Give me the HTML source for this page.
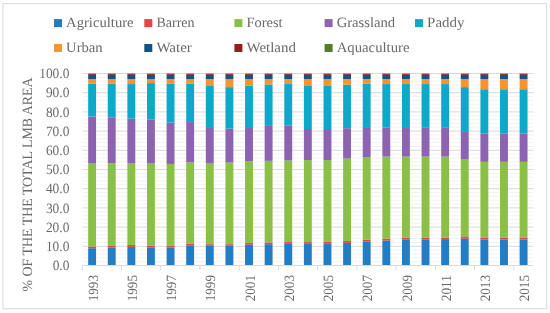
<!DOCTYPE html>
<html><head><meta charset="utf-8"><style>
html,body{margin:0;padding:0;background:#fff;width:550px;height:313px;overflow:hidden}
svg{display:block}
text{text-rendering:geometricPrecision}
text{font-family:'Liberation Serif', serif;fill:#6a6a6a}
</style></head><body>
<svg style="will-change:transform" width="550" height="313" viewBox="0 0 550 313">
<rect x="2.9" y="3.7" width="543.8" height="305.1" fill="#fff" stroke="#d9d9d9" stroke-width="1"/>
<line x1="82.30" x2="533.40" y1="261.66" y2="261.66" stroke="#f3f3f3" stroke-width="1"/>
<line x1="82.30" x2="533.40" y1="257.82" y2="257.82" stroke="#f3f3f3" stroke-width="1"/>
<line x1="82.30" x2="533.40" y1="253.98" y2="253.98" stroke="#f3f3f3" stroke-width="1"/>
<line x1="82.30" x2="533.40" y1="250.14" y2="250.14" stroke="#f3f3f3" stroke-width="1"/>
<line x1="82.30" x2="533.40" y1="246.30" y2="246.30" stroke="#d9d9d9" stroke-width="1"/>
<line x1="82.30" x2="533.40" y1="242.46" y2="242.46" stroke="#f3f3f3" stroke-width="1"/>
<line x1="82.30" x2="533.40" y1="238.62" y2="238.62" stroke="#f3f3f3" stroke-width="1"/>
<line x1="82.30" x2="533.40" y1="234.78" y2="234.78" stroke="#f3f3f3" stroke-width="1"/>
<line x1="82.30" x2="533.40" y1="230.94" y2="230.94" stroke="#f3f3f3" stroke-width="1"/>
<line x1="82.30" x2="533.40" y1="227.10" y2="227.10" stroke="#d9d9d9" stroke-width="1"/>
<line x1="82.30" x2="533.40" y1="223.26" y2="223.26" stroke="#f3f3f3" stroke-width="1"/>
<line x1="82.30" x2="533.40" y1="219.42" y2="219.42" stroke="#f3f3f3" stroke-width="1"/>
<line x1="82.30" x2="533.40" y1="215.58" y2="215.58" stroke="#f3f3f3" stroke-width="1"/>
<line x1="82.30" x2="533.40" y1="211.74" y2="211.74" stroke="#f3f3f3" stroke-width="1"/>
<line x1="82.30" x2="533.40" y1="207.90" y2="207.90" stroke="#d9d9d9" stroke-width="1"/>
<line x1="82.30" x2="533.40" y1="204.06" y2="204.06" stroke="#f3f3f3" stroke-width="1"/>
<line x1="82.30" x2="533.40" y1="200.22" y2="200.22" stroke="#f3f3f3" stroke-width="1"/>
<line x1="82.30" x2="533.40" y1="196.38" y2="196.38" stroke="#f3f3f3" stroke-width="1"/>
<line x1="82.30" x2="533.40" y1="192.54" y2="192.54" stroke="#f3f3f3" stroke-width="1"/>
<line x1="82.30" x2="533.40" y1="188.70" y2="188.70" stroke="#d9d9d9" stroke-width="1"/>
<line x1="82.30" x2="533.40" y1="184.86" y2="184.86" stroke="#f3f3f3" stroke-width="1"/>
<line x1="82.30" x2="533.40" y1="181.02" y2="181.02" stroke="#f3f3f3" stroke-width="1"/>
<line x1="82.30" x2="533.40" y1="177.18" y2="177.18" stroke="#f3f3f3" stroke-width="1"/>
<line x1="82.30" x2="533.40" y1="173.34" y2="173.34" stroke="#f3f3f3" stroke-width="1"/>
<line x1="82.30" x2="533.40" y1="169.50" y2="169.50" stroke="#d9d9d9" stroke-width="1"/>
<line x1="82.30" x2="533.40" y1="165.66" y2="165.66" stroke="#f3f3f3" stroke-width="1"/>
<line x1="82.30" x2="533.40" y1="161.82" y2="161.82" stroke="#f3f3f3" stroke-width="1"/>
<line x1="82.30" x2="533.40" y1="157.98" y2="157.98" stroke="#f3f3f3" stroke-width="1"/>
<line x1="82.30" x2="533.40" y1="154.14" y2="154.14" stroke="#f3f3f3" stroke-width="1"/>
<line x1="82.30" x2="533.40" y1="150.30" y2="150.30" stroke="#d9d9d9" stroke-width="1"/>
<line x1="82.30" x2="533.40" y1="146.46" y2="146.46" stroke="#f3f3f3" stroke-width="1"/>
<line x1="82.30" x2="533.40" y1="142.62" y2="142.62" stroke="#f3f3f3" stroke-width="1"/>
<line x1="82.30" x2="533.40" y1="138.78" y2="138.78" stroke="#f3f3f3" stroke-width="1"/>
<line x1="82.30" x2="533.40" y1="134.94" y2="134.94" stroke="#f3f3f3" stroke-width="1"/>
<line x1="82.30" x2="533.40" y1="131.10" y2="131.10" stroke="#d9d9d9" stroke-width="1"/>
<line x1="82.30" x2="533.40" y1="127.26" y2="127.26" stroke="#f3f3f3" stroke-width="1"/>
<line x1="82.30" x2="533.40" y1="123.42" y2="123.42" stroke="#f3f3f3" stroke-width="1"/>
<line x1="82.30" x2="533.40" y1="119.58" y2="119.58" stroke="#f3f3f3" stroke-width="1"/>
<line x1="82.30" x2="533.40" y1="115.74" y2="115.74" stroke="#f3f3f3" stroke-width="1"/>
<line x1="82.30" x2="533.40" y1="111.90" y2="111.90" stroke="#d9d9d9" stroke-width="1"/>
<line x1="82.30" x2="533.40" y1="108.06" y2="108.06" stroke="#f3f3f3" stroke-width="1"/>
<line x1="82.30" x2="533.40" y1="104.22" y2="104.22" stroke="#f3f3f3" stroke-width="1"/>
<line x1="82.30" x2="533.40" y1="100.38" y2="100.38" stroke="#f3f3f3" stroke-width="1"/>
<line x1="82.30" x2="533.40" y1="96.54" y2="96.54" stroke="#f3f3f3" stroke-width="1"/>
<line x1="82.30" x2="533.40" y1="92.70" y2="92.70" stroke="#d9d9d9" stroke-width="1"/>
<line x1="82.30" x2="533.40" y1="88.86" y2="88.86" stroke="#f3f3f3" stroke-width="1"/>
<line x1="82.30" x2="533.40" y1="85.02" y2="85.02" stroke="#f3f3f3" stroke-width="1"/>
<line x1="82.30" x2="533.40" y1="81.18" y2="81.18" stroke="#f3f3f3" stroke-width="1"/>
<line x1="82.30" x2="533.40" y1="77.34" y2="77.34" stroke="#f3f3f3" stroke-width="1"/>
<line x1="82.30" x2="533.40" y1="73.50" y2="73.50" stroke="#d9d9d9" stroke-width="1"/>
<rect x="88.16" y="248.22" width="7.9" height="17.28" fill="#237DC4"/>
<rect x="88.16" y="246.49" width="7.9" height="1.73" fill="#E34444"/>
<rect x="88.16" y="163.55" width="7.9" height="82.94" fill="#8AC046"/>
<rect x="88.16" y="116.51" width="7.9" height="47.04" fill="#8C63B0"/>
<rect x="88.16" y="83.48" width="7.9" height="33.02" fill="#0CA9CA"/>
<rect x="88.16" y="79.07" width="7.9" height="4.42" fill="#F8942F"/>
<rect x="88.16" y="74.84" width="7.9" height="4.22" fill="#105388"/>
<rect x="88.16" y="73.77" width="7.9" height="1.08" fill="#901f1f"/>
<rect x="88.16" y="73.50" width="7.9" height="0.27" fill="#537D25"/>
<rect x="107.77" y="247.64" width="7.9" height="17.86" fill="#237DC4"/>
<rect x="107.77" y="245.92" width="7.9" height="1.73" fill="#E34444"/>
<rect x="107.77" y="163.16" width="7.9" height="82.75" fill="#8AC046"/>
<rect x="107.77" y="117.28" width="7.9" height="45.89" fill="#8C63B0"/>
<rect x="107.77" y="83.48" width="7.9" height="33.79" fill="#0CA9CA"/>
<rect x="107.77" y="79.07" width="7.9" height="4.42" fill="#F8942F"/>
<rect x="107.77" y="74.84" width="7.9" height="4.22" fill="#105388"/>
<rect x="107.77" y="73.77" width="7.9" height="1.08" fill="#901f1f"/>
<rect x="107.77" y="73.50" width="7.9" height="0.27" fill="#537D25"/>
<rect x="127.38" y="246.88" width="7.9" height="18.62" fill="#237DC4"/>
<rect x="127.38" y="244.96" width="7.9" height="1.92" fill="#E34444"/>
<rect x="127.38" y="163.55" width="7.9" height="81.41" fill="#8AC046"/>
<rect x="127.38" y="118.62" width="7.9" height="44.93" fill="#8C63B0"/>
<rect x="127.38" y="84.06" width="7.9" height="34.56" fill="#0CA9CA"/>
<rect x="127.38" y="79.07" width="7.9" height="4.99" fill="#F8942F"/>
<rect x="127.38" y="74.84" width="7.9" height="4.22" fill="#105388"/>
<rect x="127.38" y="73.77" width="7.9" height="1.08" fill="#901f1f"/>
<rect x="127.38" y="73.50" width="7.9" height="0.27" fill="#537D25"/>
<rect x="147.00" y="247.26" width="7.9" height="18.24" fill="#237DC4"/>
<rect x="147.00" y="245.53" width="7.9" height="1.73" fill="#E34444"/>
<rect x="147.00" y="163.55" width="7.9" height="81.98" fill="#8AC046"/>
<rect x="147.00" y="119.58" width="7.9" height="43.97" fill="#8C63B0"/>
<rect x="147.00" y="83.10" width="7.9" height="36.48" fill="#0CA9CA"/>
<rect x="147.00" y="79.07" width="7.9" height="4.03" fill="#F8942F"/>
<rect x="147.00" y="74.84" width="7.9" height="4.22" fill="#105388"/>
<rect x="147.00" y="73.77" width="7.9" height="1.08" fill="#901f1f"/>
<rect x="147.00" y="73.50" width="7.9" height="0.27" fill="#537D25"/>
<rect x="166.61" y="247.45" width="7.9" height="18.05" fill="#237DC4"/>
<rect x="166.61" y="245.53" width="7.9" height="1.92" fill="#E34444"/>
<rect x="166.61" y="163.93" width="7.9" height="81.60" fill="#8AC046"/>
<rect x="166.61" y="122.65" width="7.9" height="41.28" fill="#8C63B0"/>
<rect x="166.61" y="83.87" width="7.9" height="38.78" fill="#0CA9CA"/>
<rect x="166.61" y="79.07" width="7.9" height="4.80" fill="#F8942F"/>
<rect x="166.61" y="74.84" width="7.9" height="4.22" fill="#105388"/>
<rect x="166.61" y="73.77" width="7.9" height="1.08" fill="#901f1f"/>
<rect x="166.61" y="73.50" width="7.9" height="0.27" fill="#537D25"/>
<rect x="186.22" y="245.34" width="7.9" height="20.16" fill="#237DC4"/>
<rect x="186.22" y="243.42" width="7.9" height="1.92" fill="#E34444"/>
<rect x="186.22" y="162.40" width="7.9" height="81.02" fill="#8AC046"/>
<rect x="186.22" y="122.08" width="7.9" height="40.32" fill="#8C63B0"/>
<rect x="186.22" y="83.87" width="7.9" height="38.21" fill="#0CA9CA"/>
<rect x="186.22" y="79.07" width="7.9" height="4.80" fill="#F8942F"/>
<rect x="186.22" y="74.84" width="7.9" height="4.22" fill="#105388"/>
<rect x="186.22" y="73.77" width="7.9" height="1.08" fill="#901f1f"/>
<rect x="186.22" y="73.50" width="7.9" height="0.27" fill="#537D25"/>
<rect x="205.83" y="245.72" width="7.9" height="19.78" fill="#237DC4"/>
<rect x="205.83" y="244.19" width="7.9" height="1.54" fill="#E34444"/>
<rect x="205.83" y="162.97" width="7.9" height="81.22" fill="#8AC046"/>
<rect x="205.83" y="127.07" width="7.9" height="35.90" fill="#8C63B0"/>
<rect x="205.83" y="85.98" width="7.9" height="41.09" fill="#0CA9CA"/>
<rect x="205.83" y="79.07" width="7.9" height="6.91" fill="#F8942F"/>
<rect x="205.83" y="74.84" width="7.9" height="4.22" fill="#105388"/>
<rect x="205.83" y="73.77" width="7.9" height="1.08" fill="#901f1f"/>
<rect x="205.83" y="73.50" width="7.9" height="0.27" fill="#537D25"/>
<rect x="225.45" y="245.72" width="7.9" height="19.78" fill="#237DC4"/>
<rect x="225.45" y="244.19" width="7.9" height="1.54" fill="#E34444"/>
<rect x="225.45" y="162.59" width="7.9" height="81.60" fill="#8AC046"/>
<rect x="225.45" y="128.60" width="7.9" height="33.98" fill="#8C63B0"/>
<rect x="225.45" y="87.13" width="7.9" height="41.47" fill="#0CA9CA"/>
<rect x="225.45" y="79.07" width="7.9" height="8.06" fill="#F8942F"/>
<rect x="225.45" y="74.84" width="7.9" height="4.22" fill="#105388"/>
<rect x="225.45" y="73.77" width="7.9" height="1.08" fill="#901f1f"/>
<rect x="225.45" y="73.50" width="7.9" height="0.27" fill="#537D25"/>
<rect x="245.06" y="244.57" width="7.9" height="20.93" fill="#237DC4"/>
<rect x="245.06" y="242.84" width="7.9" height="1.73" fill="#E34444"/>
<rect x="245.06" y="161.05" width="7.9" height="81.79" fill="#8AC046"/>
<rect x="245.06" y="128.03" width="7.9" height="33.02" fill="#8C63B0"/>
<rect x="245.06" y="85.79" width="7.9" height="42.24" fill="#0CA9CA"/>
<rect x="245.06" y="79.07" width="7.9" height="6.72" fill="#F8942F"/>
<rect x="245.06" y="74.84" width="7.9" height="4.22" fill="#105388"/>
<rect x="245.06" y="73.77" width="7.9" height="1.08" fill="#901f1f"/>
<rect x="245.06" y="73.50" width="7.9" height="0.27" fill="#537D25"/>
<rect x="264.67" y="244.19" width="7.9" height="21.31" fill="#237DC4"/>
<rect x="264.67" y="242.46" width="7.9" height="1.73" fill="#E34444"/>
<rect x="264.67" y="160.86" width="7.9" height="81.60" fill="#8AC046"/>
<rect x="264.67" y="125.92" width="7.9" height="34.94" fill="#8C63B0"/>
<rect x="264.67" y="84.44" width="7.9" height="41.47" fill="#0CA9CA"/>
<rect x="264.67" y="79.07" width="7.9" height="5.38" fill="#F8942F"/>
<rect x="264.67" y="74.84" width="7.9" height="4.22" fill="#105388"/>
<rect x="264.67" y="73.77" width="7.9" height="1.08" fill="#901f1f"/>
<rect x="264.67" y="73.50" width="7.9" height="0.27" fill="#537D25"/>
<rect x="284.29" y="243.80" width="7.9" height="21.70" fill="#237DC4"/>
<rect x="284.29" y="242.08" width="7.9" height="1.73" fill="#E34444"/>
<rect x="284.29" y="160.48" width="7.9" height="81.60" fill="#8AC046"/>
<rect x="284.29" y="125.34" width="7.9" height="35.14" fill="#8C63B0"/>
<rect x="284.29" y="84.06" width="7.9" height="41.28" fill="#0CA9CA"/>
<rect x="284.29" y="79.07" width="7.9" height="4.99" fill="#F8942F"/>
<rect x="284.29" y="74.84" width="7.9" height="4.22" fill="#105388"/>
<rect x="284.29" y="73.77" width="7.9" height="1.08" fill="#901f1f"/>
<rect x="284.29" y="73.50" width="7.9" height="0.27" fill="#537D25"/>
<rect x="303.90" y="243.80" width="7.9" height="21.70" fill="#237DC4"/>
<rect x="303.90" y="242.08" width="7.9" height="1.73" fill="#E34444"/>
<rect x="303.90" y="160.09" width="7.9" height="81.98" fill="#8AC046"/>
<rect x="303.90" y="128.99" width="7.9" height="31.10" fill="#8C63B0"/>
<rect x="303.90" y="85.98" width="7.9" height="43.01" fill="#0CA9CA"/>
<rect x="303.90" y="79.07" width="7.9" height="6.91" fill="#F8942F"/>
<rect x="303.90" y="74.84" width="7.9" height="4.22" fill="#105388"/>
<rect x="303.90" y="73.77" width="7.9" height="1.08" fill="#901f1f"/>
<rect x="303.90" y="73.50" width="7.9" height="0.27" fill="#537D25"/>
<rect x="323.51" y="243.80" width="7.9" height="21.70" fill="#237DC4"/>
<rect x="323.51" y="241.88" width="7.9" height="1.92" fill="#E34444"/>
<rect x="323.51" y="160.09" width="7.9" height="81.79" fill="#8AC046"/>
<rect x="323.51" y="128.99" width="7.9" height="31.10" fill="#8C63B0"/>
<rect x="323.51" y="85.98" width="7.9" height="43.01" fill="#0CA9CA"/>
<rect x="323.51" y="79.07" width="7.9" height="6.91" fill="#F8942F"/>
<rect x="323.51" y="74.84" width="7.9" height="4.22" fill="#105388"/>
<rect x="323.51" y="73.77" width="7.9" height="1.08" fill="#901f1f"/>
<rect x="323.51" y="73.50" width="7.9" height="0.27" fill="#537D25"/>
<rect x="343.13" y="242.84" width="7.9" height="22.66" fill="#237DC4"/>
<rect x="343.13" y="240.92" width="7.9" height="1.92" fill="#E34444"/>
<rect x="343.13" y="158.56" width="7.9" height="82.37" fill="#8AC046"/>
<rect x="343.13" y="128.22" width="7.9" height="30.34" fill="#8C63B0"/>
<rect x="343.13" y="84.64" width="7.9" height="43.58" fill="#0CA9CA"/>
<rect x="343.13" y="79.07" width="7.9" height="5.57" fill="#F8942F"/>
<rect x="343.13" y="74.84" width="7.9" height="4.22" fill="#105388"/>
<rect x="343.13" y="73.77" width="7.9" height="1.08" fill="#901f1f"/>
<rect x="343.13" y="73.50" width="7.9" height="0.27" fill="#537D25"/>
<rect x="362.74" y="241.69" width="7.9" height="23.81" fill="#237DC4"/>
<rect x="362.74" y="239.77" width="7.9" height="1.92" fill="#E34444"/>
<rect x="362.74" y="157.02" width="7.9" height="82.75" fill="#8AC046"/>
<rect x="362.74" y="127.07" width="7.9" height="29.95" fill="#8C63B0"/>
<rect x="362.74" y="83.48" width="7.9" height="43.58" fill="#0CA9CA"/>
<rect x="362.74" y="79.07" width="7.9" height="4.42" fill="#F8942F"/>
<rect x="362.74" y="74.84" width="7.9" height="4.22" fill="#105388"/>
<rect x="362.74" y="73.77" width="7.9" height="1.08" fill="#901f1f"/>
<rect x="362.74" y="73.50" width="7.9" height="0.27" fill="#537D25"/>
<rect x="382.35" y="240.54" width="7.9" height="24.96" fill="#237DC4"/>
<rect x="382.35" y="238.62" width="7.9" height="1.92" fill="#E34444"/>
<rect x="382.35" y="156.64" width="7.9" height="81.98" fill="#8AC046"/>
<rect x="382.35" y="127.64" width="7.9" height="28.99" fill="#8C63B0"/>
<rect x="382.35" y="84.06" width="7.9" height="43.58" fill="#0CA9CA"/>
<rect x="382.35" y="79.07" width="7.9" height="4.99" fill="#F8942F"/>
<rect x="382.35" y="74.84" width="7.9" height="4.22" fill="#105388"/>
<rect x="382.35" y="73.77" width="7.9" height="1.08" fill="#901f1f"/>
<rect x="382.35" y="73.50" width="7.9" height="0.27" fill="#537D25"/>
<rect x="401.97" y="239.77" width="7.9" height="25.73" fill="#237DC4"/>
<rect x="401.97" y="237.85" width="7.9" height="1.92" fill="#E34444"/>
<rect x="401.97" y="156.64" width="7.9" height="81.22" fill="#8AC046"/>
<rect x="401.97" y="128.03" width="7.9" height="28.61" fill="#8C63B0"/>
<rect x="401.97" y="84.06" width="7.9" height="43.97" fill="#0CA9CA"/>
<rect x="401.97" y="79.07" width="7.9" height="4.99" fill="#F8942F"/>
<rect x="401.97" y="74.84" width="7.9" height="4.22" fill="#105388"/>
<rect x="401.97" y="73.77" width="7.9" height="1.08" fill="#901f1f"/>
<rect x="401.97" y="73.50" width="7.9" height="0.27" fill="#537D25"/>
<rect x="421.58" y="239.77" width="7.9" height="25.73" fill="#237DC4"/>
<rect x="421.58" y="237.85" width="7.9" height="1.92" fill="#E34444"/>
<rect x="421.58" y="156.64" width="7.9" height="81.22" fill="#8AC046"/>
<rect x="421.58" y="127.84" width="7.9" height="28.80" fill="#8C63B0"/>
<rect x="421.58" y="84.06" width="7.9" height="43.78" fill="#0CA9CA"/>
<rect x="421.58" y="79.07" width="7.9" height="4.99" fill="#F8942F"/>
<rect x="421.58" y="74.84" width="7.9" height="4.22" fill="#105388"/>
<rect x="421.58" y="73.77" width="7.9" height="1.08" fill="#901f1f"/>
<rect x="421.58" y="73.50" width="7.9" height="0.27" fill="#537D25"/>
<rect x="441.19" y="239.10" width="7.9" height="26.40" fill="#237DC4"/>
<rect x="441.19" y="237.47" width="7.9" height="1.63" fill="#E34444"/>
<rect x="441.19" y="156.64" width="7.9" height="80.83" fill="#8AC046"/>
<rect x="441.19" y="127.84" width="7.9" height="28.80" fill="#8C63B0"/>
<rect x="441.19" y="84.06" width="7.9" height="43.78" fill="#0CA9CA"/>
<rect x="441.19" y="79.07" width="7.9" height="4.99" fill="#F8942F"/>
<rect x="441.19" y="74.84" width="7.9" height="4.22" fill="#105388"/>
<rect x="441.19" y="73.77" width="7.9" height="1.08" fill="#901f1f"/>
<rect x="441.19" y="73.50" width="7.9" height="0.27" fill="#537D25"/>
<rect x="460.80" y="238.81" width="7.9" height="26.69" fill="#237DC4"/>
<rect x="460.80" y="237.08" width="7.9" height="1.73" fill="#E34444"/>
<rect x="460.80" y="159.52" width="7.9" height="77.57" fill="#8AC046"/>
<rect x="460.80" y="131.10" width="7.9" height="28.42" fill="#8C63B0"/>
<rect x="460.80" y="87.13" width="7.9" height="43.97" fill="#0CA9CA"/>
<rect x="460.80" y="79.07" width="7.9" height="8.06" fill="#F8942F"/>
<rect x="460.80" y="74.84" width="7.9" height="4.22" fill="#105388"/>
<rect x="460.80" y="73.77" width="7.9" height="1.08" fill="#901f1f"/>
<rect x="460.80" y="73.50" width="7.9" height="0.27" fill="#537D25"/>
<rect x="480.42" y="239.39" width="7.9" height="26.11" fill="#237DC4"/>
<rect x="480.42" y="237.47" width="7.9" height="1.92" fill="#E34444"/>
<rect x="480.42" y="161.82" width="7.9" height="75.65" fill="#8AC046"/>
<rect x="480.42" y="133.40" width="7.9" height="28.42" fill="#8C63B0"/>
<rect x="480.42" y="89.24" width="7.9" height="44.16" fill="#0CA9CA"/>
<rect x="480.42" y="79.07" width="7.9" height="10.18" fill="#F8942F"/>
<rect x="480.42" y="74.84" width="7.9" height="4.22" fill="#105388"/>
<rect x="480.42" y="73.77" width="7.9" height="1.08" fill="#901f1f"/>
<rect x="480.42" y="73.50" width="7.9" height="0.27" fill="#537D25"/>
<rect x="500.03" y="239.39" width="7.9" height="26.11" fill="#237DC4"/>
<rect x="500.03" y="237.47" width="7.9" height="1.92" fill="#E34444"/>
<rect x="500.03" y="161.82" width="7.9" height="75.65" fill="#8AC046"/>
<rect x="500.03" y="133.40" width="7.9" height="28.42" fill="#8C63B0"/>
<rect x="500.03" y="89.24" width="7.9" height="44.16" fill="#0CA9CA"/>
<rect x="500.03" y="79.07" width="7.9" height="10.18" fill="#F8942F"/>
<rect x="500.03" y="74.84" width="7.9" height="4.22" fill="#105388"/>
<rect x="500.03" y="73.77" width="7.9" height="1.08" fill="#901f1f"/>
<rect x="500.03" y="73.50" width="7.9" height="0.27" fill="#537D25"/>
<rect x="519.64" y="239.39" width="7.9" height="26.11" fill="#237DC4"/>
<rect x="519.64" y="237.47" width="7.9" height="1.92" fill="#E34444"/>
<rect x="519.64" y="161.82" width="7.9" height="75.65" fill="#8AC046"/>
<rect x="519.64" y="133.40" width="7.9" height="28.42" fill="#8C63B0"/>
<rect x="519.64" y="89.24" width="7.9" height="44.16" fill="#0CA9CA"/>
<rect x="519.64" y="79.07" width="7.9" height="10.18" fill="#F8942F"/>
<rect x="519.64" y="74.84" width="7.9" height="4.22" fill="#105388"/>
<rect x="519.64" y="73.77" width="7.9" height="1.08" fill="#901f1f"/>
<rect x="519.64" y="73.50" width="7.9" height="0.27" fill="#537D25"/>
<line x1="82.30" x2="533.40" y1="265.50" y2="265.50" stroke="#d9d9d9" stroke-width="1"/>
<line x1="82.30" x2="82.30" y1="265.50" y2="270.00" stroke="#d9d9d9" stroke-width="1"/>
<line x1="121.53" x2="121.53" y1="265.50" y2="270.00" stroke="#d9d9d9" stroke-width="1"/>
<line x1="160.75" x2="160.75" y1="265.50" y2="270.00" stroke="#d9d9d9" stroke-width="1"/>
<line x1="199.98" x2="199.98" y1="265.50" y2="270.00" stroke="#d9d9d9" stroke-width="1"/>
<line x1="239.20" x2="239.20" y1="265.50" y2="270.00" stroke="#d9d9d9" stroke-width="1"/>
<line x1="278.43" x2="278.43" y1="265.50" y2="270.00" stroke="#d9d9d9" stroke-width="1"/>
<line x1="317.66" x2="317.66" y1="265.50" y2="270.00" stroke="#d9d9d9" stroke-width="1"/>
<line x1="356.88" x2="356.88" y1="265.50" y2="270.00" stroke="#d9d9d9" stroke-width="1"/>
<line x1="396.11" x2="396.11" y1="265.50" y2="270.00" stroke="#d9d9d9" stroke-width="1"/>
<line x1="435.33" x2="435.33" y1="265.50" y2="270.00" stroke="#d9d9d9" stroke-width="1"/>
<line x1="474.56" x2="474.56" y1="265.50" y2="270.00" stroke="#d9d9d9" stroke-width="1"/>
<line x1="513.79" x2="513.79" y1="265.50" y2="270.00" stroke="#d9d9d9" stroke-width="1"/>
<text x="69.4" y="270.10" text-anchor="end" font-size="14.2" textLength="16.77" lengthAdjust="spacingAndGlyphs">0.0</text>
<text x="69.4" y="250.90" text-anchor="end" font-size="14.2" textLength="23.48" lengthAdjust="spacingAndGlyphs">10.0</text>
<text x="69.4" y="231.70" text-anchor="end" font-size="14.2" textLength="23.48" lengthAdjust="spacingAndGlyphs">20.0</text>
<text x="69.4" y="212.50" text-anchor="end" font-size="14.2" textLength="23.48" lengthAdjust="spacingAndGlyphs">30.0</text>
<text x="69.4" y="193.30" text-anchor="end" font-size="14.2" textLength="23.48" lengthAdjust="spacingAndGlyphs">40.0</text>
<text x="69.4" y="174.10" text-anchor="end" font-size="14.2" textLength="23.48" lengthAdjust="spacingAndGlyphs">50.0</text>
<text x="69.4" y="154.90" text-anchor="end" font-size="14.2" textLength="23.48" lengthAdjust="spacingAndGlyphs">60.0</text>
<text x="69.4" y="135.70" text-anchor="end" font-size="14.2" textLength="23.48" lengthAdjust="spacingAndGlyphs">70.0</text>
<text x="69.4" y="116.50" text-anchor="end" font-size="14.2" textLength="23.48" lengthAdjust="spacingAndGlyphs">80.0</text>
<text x="69.4" y="97.30" text-anchor="end" font-size="14.2" textLength="23.48" lengthAdjust="spacingAndGlyphs">90.0</text>
<text x="69.4" y="78.10" text-anchor="end" font-size="14.2" textLength="30.19" lengthAdjust="spacingAndGlyphs">100.0</text>
<text transform="translate(97.71,275) rotate(-90)" text-anchor="end" font-size="14.2" textLength="26.3" lengthAdjust="spacingAndGlyphs">1993</text>
<text transform="translate(136.93,275) rotate(-90)" text-anchor="end" font-size="14.2" textLength="26.3" lengthAdjust="spacingAndGlyphs">1995</text>
<text transform="translate(176.16,275) rotate(-90)" text-anchor="end" font-size="14.2" textLength="26.3" lengthAdjust="spacingAndGlyphs">1997</text>
<text transform="translate(215.38,275) rotate(-90)" text-anchor="end" font-size="14.2" textLength="26.3" lengthAdjust="spacingAndGlyphs">1999</text>
<text transform="translate(254.61,275) rotate(-90)" text-anchor="end" font-size="14.2" textLength="26.3" lengthAdjust="spacingAndGlyphs">2001</text>
<text transform="translate(293.84,275) rotate(-90)" text-anchor="end" font-size="14.2" textLength="26.3" lengthAdjust="spacingAndGlyphs">2003</text>
<text transform="translate(333.06,275) rotate(-90)" text-anchor="end" font-size="14.2" textLength="26.3" lengthAdjust="spacingAndGlyphs">2005</text>
<text transform="translate(372.29,275) rotate(-90)" text-anchor="end" font-size="14.2" textLength="26.3" lengthAdjust="spacingAndGlyphs">2007</text>
<text transform="translate(411.52,275) rotate(-90)" text-anchor="end" font-size="14.2" textLength="26.3" lengthAdjust="spacingAndGlyphs">2009</text>
<text transform="translate(450.74,275) rotate(-90)" text-anchor="end" font-size="14.2" textLength="26.3" lengthAdjust="spacingAndGlyphs">2011</text>
<text transform="translate(489.97,275) rotate(-90)" text-anchor="end" font-size="14.2" textLength="26.3" lengthAdjust="spacingAndGlyphs">2013</text>
<text transform="translate(529.19,275) rotate(-90)" text-anchor="end" font-size="14.2" textLength="26.3" lengthAdjust="spacingAndGlyphs">2015</text>
<text transform="translate(31.8,291.5) rotate(-90)" font-size="14.2" textLength="214" lengthAdjust="spacingAndGlyphs">% OF THE THE TOTAL LMB AREA</text>
<rect x="54" y="19.1" width="8" height="8" fill="#237DC4"/>
<text x="66.10" y="27.10" font-size="14.2" textLength="67.5" lengthAdjust="spacingAndGlyphs">Agriculture</text>
<rect x="144.3" y="19.1" width="8" height="8" fill="#E34444"/>
<text x="156.40" y="27.10" font-size="14.2" textLength="38.2" lengthAdjust="spacingAndGlyphs">Barren</text>
<rect x="234.4" y="19.1" width="8" height="8" fill="#8AC046"/>
<text x="246.50" y="27.10" font-size="14.2" textLength="36.0" lengthAdjust="spacingAndGlyphs">Forest</text>
<rect x="324.6" y="19.1" width="8" height="8" fill="#8C63B0"/>
<text x="336.70" y="27.10" font-size="14.2" textLength="58.5" lengthAdjust="spacingAndGlyphs">Grassland</text>
<rect x="415.0" y="19.1" width="8" height="8" fill="#0CA9CA"/>
<text x="427.10" y="27.10" font-size="14.2" textLength="37.3" lengthAdjust="spacingAndGlyphs">Paddy</text>
<rect x="54" y="44" width="8" height="8" fill="#F8942F"/>
<text x="66.10" y="52.00" font-size="14.2" textLength="36.5" lengthAdjust="spacingAndGlyphs">Urban</text>
<rect x="144.3" y="44" width="8" height="8" fill="#105388"/>
<text x="156.40" y="52.00" font-size="14.2" textLength="35.4" lengthAdjust="spacingAndGlyphs">Water</text>
<rect x="234.4" y="44" width="8" height="8" fill="#901f1f"/>
<text x="246.50" y="52.00" font-size="14.2" textLength="49.4" lengthAdjust="spacingAndGlyphs">Wetland</text>
<rect x="324.6" y="44" width="8" height="8" fill="#537D25"/>
<text x="336.70" y="52.00" font-size="14.2" textLength="72.8" lengthAdjust="spacingAndGlyphs">Aquaculture</text>
</svg>
</body></html>
